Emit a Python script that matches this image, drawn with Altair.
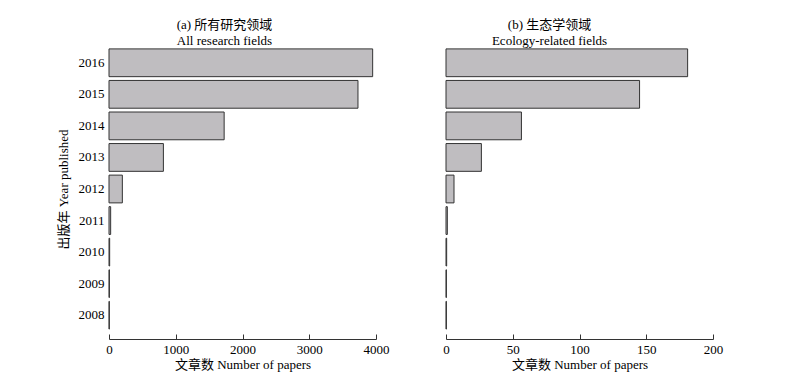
import altair as alt
import pandas as pd

years = [2016, 2015, 2014, 2013, 2012, 2011, 2010, 2009, 2008]
all_fields = [3950, 3730, 1725, 815, 200, 25, 10, 6, 5]
ecology = [181, 145, 56.5, 26.5, 6, 1, 0.5, 0.3, 0.3]

FONT = "Liberation Serif, Noto Sans CJK SC"
FILL = "#bfbdc0"
STROKE = "#333333"
H = 284
W = 267

df_a = pd.DataFrame({"year": years, "n": all_fields})
df_b = pd.DataFrame({"year": years, "n": ecology})


def panel(df, domain, ticks, title_lines, dx, show_y):
    yenc = alt.Y(
        "year:O",
        sort=years,
        scale=alt.Scale(paddingInner=0.12, paddingOuter=0.06),
        axis=(alt.Axis(title="出版年 Year published", ticks=False, domain=False,
                       labelPadding=5, titlePadding=8, labelFontSize=13,
                       titleFontSize=13, titleFontWeight="normal",
                       labelColor="#000", titleColor="#000")
              if show_y else None),
    )
    xscale = alt.Scale(domain=domain, nice=False)
    bars = alt.Chart(df).mark_bar(fill=FILL, stroke=STROKE, strokeWidth=1).encode(
        x=alt.X("n:Q", scale=xscale,
                axis=alt.Axis(values=ticks, orient="bottom", offset=8, ticks=False,
                              domain=False, grid=False, labelFontSize=13,
                              labelPadding=4, title="文章数 Number of papers",
                              titleFontSize=13, titleFontWeight="normal",
                              titlePadding=2, labelColor="#000", titleColor="#000",
                              labelFlush=False, format="d")),
        y=yenc,
    )
    tick_layer = alt.Chart(df).mark_point(opacity=0).encode(
        x=alt.X("n:Q", scale=xscale,
                axis=alt.Axis(values=ticks, orient="top", offset=-(H + 8), ticks=True,
                              tickSize=5, tickColor=STROKE, domain=True,
                              domainColor=STROKE, labels=False, grid=False,
                              title=None)),
    )
    return alt.layer(bars, tick_layer).resolve_axis(x="independent").properties(
        width=W, height=H,
        title=alt.TitleParams(text=title_lines, fontSize=13, fontWeight="normal",
                              font=FONT, lineHeight=16, offset=-1, dx=dx,
                              anchor="middle", color="#000"),
    )


left = panel(df_a, [0, 4000], [0, 1000, 2000, 3000, 4000],
             ["(a) 所有研究领域", "All research fields"], -18, True)
right = panel(df_b, [0, 200], [0, 50, 100, 150, 200],
              ["(b) 生态学领域", "Ecology-related fields"], -30, False)

chart = alt.hconcat(left, right, spacing=70, bounds="flush").properties(
    padding={"left": 49, "top": 11, "right": 5, "bottom": 5}
).configure(font=FONT).configure_view(stroke=None)

chart.save("out.html", embed_options={"renderer": "svg", "actions": False})
